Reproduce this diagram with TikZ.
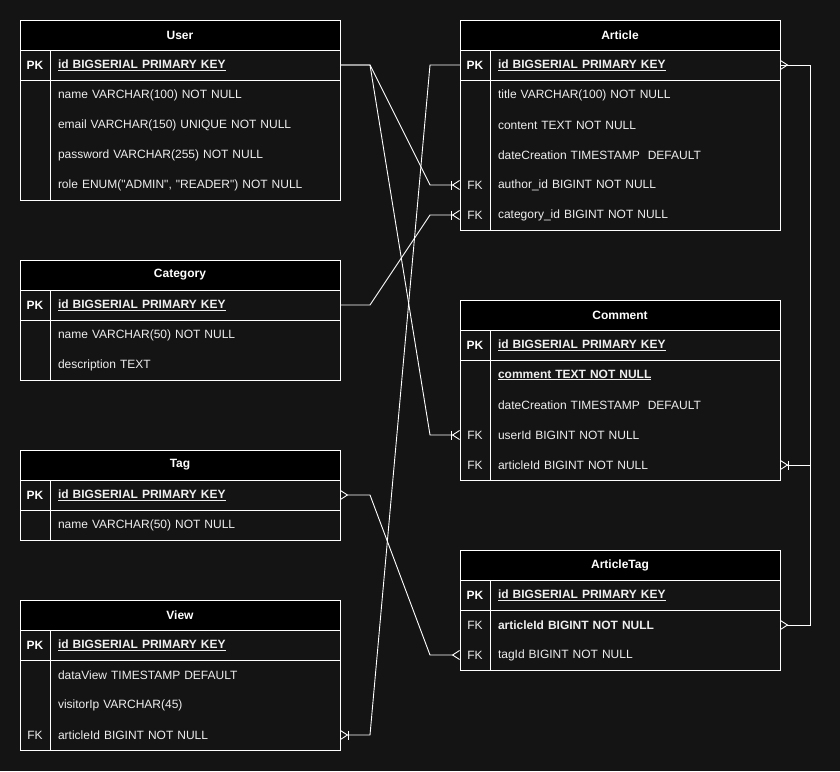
\documentclass[tikz,border=0pt]{standalone}
\usepackage{fontspec}
\setmainfont{Liberation Sans}
\usetikzlibrary{arrows.meta,positioning}
\definecolor{canvas}{RGB}{20,20,20}
\definecolor{ink}{RGB}{238,238,238}

\begin{document}
\begin{tikzpicture}[x=1pt,y=-1pt,font=\fontsize{12}{14}\selectfont,
  hdr/.style={rectangle,draw=white,line width=1pt,fill=black,text=white,
              font=\fontsize{12}{14}\selectfont\bfseries,outer sep=0pt,
              minimum width=320pt,minimum height=30pt,inner sep=0pt,anchor=north west},
  fld/.style={rectangle,text=ink,text width=274pt,inner xsep=8pt,inner ysep=0pt,
              outer sep=0pt,minimum height=30pt,align=left},
  key/.style={rectangle,text=ink,minimum width=30pt,minimum height=30pt,
              inner sep=0pt,outer sep=0pt},
  pk/.style={font=\fontsize{12}{14}\selectfont\bfseries,text=white},
  frame/.style={draw=white,line width=1pt},
  rel/.style={draw=white,line width=0.9pt},
  crow/.tip={Straight Barb[reversed,length=7pt,width=9pt]}]
\path[use as bounding box,fill=canvas] (0,0) rectangle (840,771);

% User
\node[hdr] (user) at (20,20) {User};
\node[fld,anchor=north east] (user-id) at (user.south east) {\underline{\textbf{id BIGSERIAL PRIMARY KEY}}};
\node[fld,below=0pt of user-id] (user-name) {name VARCHAR(100) NOT NULL};
\node[fld,below=0pt of user-name] (user-email) {email VARCHAR(150) UNIQUE NOT NULL};
\node[fld,below=0pt of user-email] (user-pwd) {password VARCHAR(255) NOT NULL};
\node[fld,below=0pt of user-pwd] (user-role) {role ENUM(\textquotedbl ADMIN\textquotedbl, \textquotedbl READER\textquotedbl) NOT NULL};
\node[key,pk,left=0pt of user-id] (user-k1) {PK};
\draw[frame] (user.south west) rectangle (user-role.south east);
\draw[frame] (user-id.south -| user.west) -- (user-id.south east);
\draw[frame] (user-id.north west) -- (user-role.south west);

% Category
\node[hdr] (cat) at (20,260) {Category};
\node[fld,anchor=north east] (cat-id) at (cat.south east) {\underline{\textbf{id BIGSERIAL PRIMARY KEY}}};
\node[fld,below=0pt of cat-id] (cat-name) {name VARCHAR(50) NOT NULL};
\node[fld,below=0pt of cat-name] (cat-desc) {description TEXT};
\node[key,pk,left=0pt of cat-id] (cat-k1) {PK};
\draw[frame] (cat.south west) rectangle (cat-desc.south east);
\draw[frame] (cat-id.south -| cat.west) -- (cat-id.south east);
\draw[frame] (cat-id.north west) -- (cat-desc.south west);

% Tag
\node[hdr] (tag) at (20,450) {Tag};
\node[fld,anchor=north east] (tag-id) at (tag.south east) {\underline{\textbf{id BIGSERIAL PRIMARY KEY}}};
\node[fld,below=0pt of tag-id] (tag-name) {name VARCHAR(50) NOT NULL};
\node[key,pk,left=0pt of tag-id] (tag-k1) {PK};
\draw[frame] (tag.south west) rectangle (tag-name.south east);
\draw[frame] (tag-id.south -| tag.west) -- (tag-id.south east);
\draw[frame] (tag-id.north west) -- (tag-name.south west);

% View
\node[hdr] (view) at (20,600) {View};
\node[fld,anchor=north east] (view-id) at (view.south east) {\underline{\textbf{id BIGSERIAL PRIMARY KEY}}};
\node[fld,below=0pt of view-id] (view-date) {dataView TIMESTAMP DEFAULT};
\node[fld,below=0pt of view-date] (view-ip) {visitorIp VARCHAR(45)};
\node[fld,below=0pt of view-ip] (view-art) {articleId BIGINT NOT NULL};
\node[key,pk,left=0pt of view-id] (view-k1) {PK};
\node[key,left=0pt of view-art] (view-k4) {FK};
\draw[frame] (view.south west) rectangle (view-art.south east);
\draw[frame] (view-id.south -| view.west) -- (view-id.south east);
\draw[frame] (view-id.north west) -- (view-art.south west);

% Article
\node[hdr] (art) at (460,20) {Article};
\node[fld,anchor=north east] (art-id) at (art.south east) {\underline{\textbf{id BIGSERIAL PRIMARY KEY}}};
\node[fld,below=0pt of art-id] (art-title) {title VARCHAR(100) NOT NULL};
\node[fld,below=0pt of art-title] (art-content) {content TEXT NOT NULL};
\node[fld,below=0pt of art-content] (art-date) {dateCreation TIMESTAMP\ \ DEFAULT};
\node[fld,below=0pt of art-date] (art-author) {author\_id BIGINT NOT NULL};
\node[fld,below=0pt of art-author] (art-cat) {category\_id BIGINT NOT NULL};
\node[key,pk,left=0pt of art-id] (art-k1) {PK};
\node[key,left=0pt of art-author] (art-k5) {FK};
\node[key,left=0pt of art-cat] (art-k6) {FK};
\draw[frame] (art.south west) rectangle (art-cat.south east);
\draw[frame] (art-id.south -| art.west) -- (art-id.south east);
\draw[frame] (art-id.north west) -- (art-cat.south west);

% Comment
\node[hdr] (com) at (460,300) {Comment};
\node[fld,anchor=north east] (com-id) at (com.south east) {\underline{\textbf{id BIGSERIAL PRIMARY KEY}}};
\node[fld,below=0pt of com-id] (com-text) {\underline{\textbf{comment TEXT NOT NULL}}};
\node[fld,below=0pt of com-text] (com-date) {dateCreation TIMESTAMP\ \ DEFAULT};
\node[fld,below=0pt of com-date] (com-user) {userId BIGINT NOT NULL};
\node[fld,below=0pt of com-user] (com-art) {articleId BIGINT NOT NULL};
\node[key,pk,left=0pt of com-id] (com-k1) {PK};
\node[key,left=0pt of com-user] (com-k4) {FK};
\node[key,left=0pt of com-art] (com-k5) {FK};
\draw[frame] (com.south west) rectangle (com-art.south east);
\draw[frame] (com-id.south -| com.west) -- (com-id.south east);
\draw[frame] (com-id.north west) -- (com-art.south west);

% ArticleTag
\node[hdr] (at) at (460,550) {ArticleTag};
\node[fld,anchor=north east] (at-id) at (at.south east) {\underline{\textbf{id BIGSERIAL PRIMARY KEY}}};
\node[fld,below=0pt of at-id] (at-art) {\textbf{articleId BIGINT NOT NULL}};
\node[fld,below=0pt of at-art] (at-tag) {tagId BIGINT NOT NULL};
\node[key,pk,left=0pt of at-id] (at-k1) {PK};
\node[key,left=0pt of at-art] (at-k2) {FK};
\node[key,left=0pt of at-tag] (at-k3) {FK};
\draw[frame] (at.south west) rectangle (at-tag.south east);
\draw[frame] (at-id.south -| at.west) -- (at-id.south east);
\draw[frame] (at-id.north west) -- (at-tag.south west);

% relations
\draw[rel,-{Bar[width=9pt]crow}] (user-id.east) -- ++(30,0) -- ([xshift=-30pt]art-k5.west) -- (art-k5.west);
\draw[rel,-{Bar[width=9pt]crow}] (user-id.east) -- ++(30,0) -- ([xshift=-30pt]com-k4.west) -- (com-k4.west);
\draw[rel,-{Bar[width=9pt]crow}] (cat-id.east) -- ++(30,0) -- ([xshift=-30pt]art-k6.west) -- (art-k6.west);
\draw[rel,-{Bar[width=9pt]crow}] (art-k1.west) -- ++(-30,0) -- ([xshift=30pt]view-art.east) -- (view-art.east);
\draw[rel,{crow}-{crow}] (tag-id.east) -- ++(30,0) -- ([xshift=-30pt]at-k3.west) -- (at-k3.west);
\draw[rel,{crow}-{Bar[width=9pt]crow}] (art-id.east) -- ++(30,0) |- (com-art.east);
\draw[rel,-{crow}] (art-id.east) -- ++(30,0) |- (at-art.east);
\end{tikzpicture}
\end{document}
